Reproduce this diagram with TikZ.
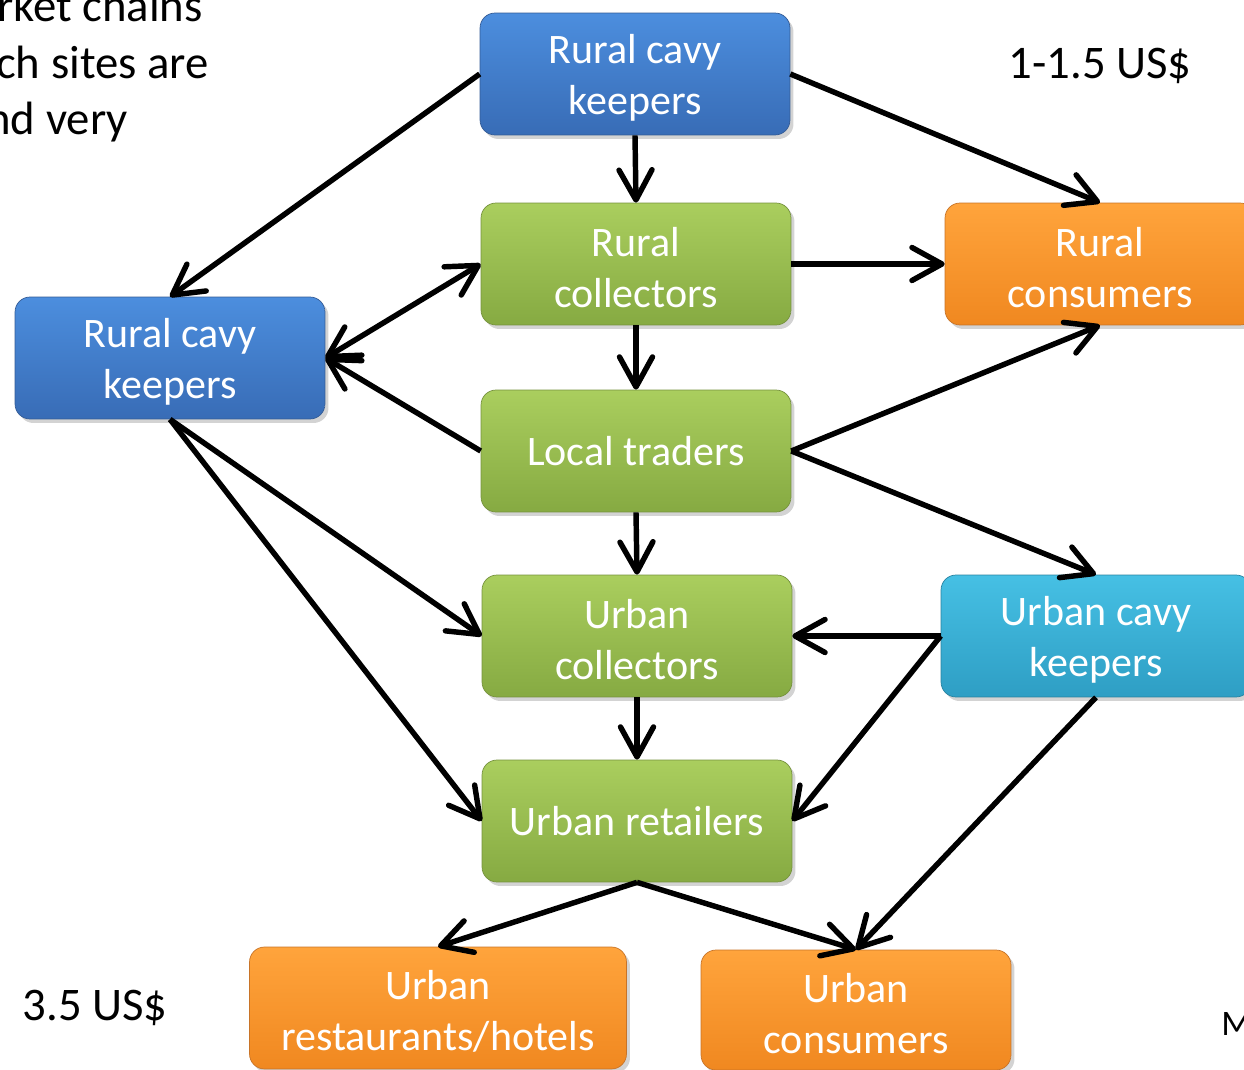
\documentclass[tikz,border=0pt]{standalone}
\usepackage{fontspec}
\setmainfont{Carlito}
\usepackage{tikz}
\usetikzlibrary{arrows.meta}
\usetikzlibrary{shadows}
\usepackage{xcolor}
\definecolor{bluetop}{RGB}{76,142,222}
\definecolor{bluebot}{RGB}{56,108,182}
\definecolor{blueline}{RGB}{52,92,150}
\definecolor{greentop}{RGB}{170,206,94}
\definecolor{greenbot}{RGB}{134,170,66}
\definecolor{greenline}{RGB}{118,146,62}
\definecolor{orangetop}{RGB}{255,164,60}
\definecolor{orangebot}{RGB}{240,136,32}
\definecolor{orangeline}{RGB}{200,116,40}
\definecolor{cyantop}{RGB}{70,192,228}
\definecolor{cyanbot}{RGB}{46,158,196}
\definecolor{cyanline}{RGB}{40,130,160}
\newcommand{\lift}{\rule{0pt}{0.86em}}
\tikzset{
  box/.style={rounded corners=0.3cm, minimum width=6.2cm, minimum height=2.44cm,
    align=center, text=white, font=\fontsize{23.9}{29}\selectfont,
    drop shadow={opacity=0.35, shadow xshift=0.07cm, shadow yshift=-0.08cm}},
  keeper/.style={box, draw=blueline, top color=bluetop, bottom color=bluebot},
  trader/.style={box, draw=greenline, top color=greentop, bottom color=greenbot},
  buyer/.style={box, draw=orangeline, top color=orangetop, bottom color=orangebot},
  citykeeper/.style={box, draw=cyanline, top color=cyantop, bottom color=cyanbot},
  barb/.tip={Straight Barb[length=0.6cm,width=0.66cm,round]},
  flow/.style={-barb, line width=3.1pt},
  twoway/.style={barb-barb, line width=3.1pt},
  label/.style={font=\fontsize{26.6}{32}\selectfont, inner sep=0pt}
}

\begin{document}
\begin{tikzpicture}[x=0.02cm, y=-0.02cm]
            \useasboundingbox (0,0) rectangle (1244,1070);
            \node (topk) [keeper] at (635,74) {\lift Rural cavy\\keepers};
            \node (ruralcoll) [trader] at (636,264) {\lift Rural\\collectors};
            \node (ruralcons) [buyer] at (1100,264) {\lift Rural\\consumers};
            \node (leftk) [keeper] at (170,358) {\lift Rural cavy\\keepers};
            \node (local) [trader] at (636,451) {Local traders};
            \node (urbcoll) [trader] at (637,636) {\lift Urban\\collectors};
            \node (urbank) [citykeeper] at (1096,636) {\lift Urban cavy\\keepers};
            \node (urbret) [trader] at (637,821) {Urban retailers};
            \node (rest) [buyer, minimum width=7.54cm] at (438,1008) {\lift Urban\\restaurants/hotels};
            \node (urbcons) [buyer, minimum height=2.4cm] at (856,1010) {\lift Urban\\consumers};
            \node (price1) [label] at (1100,66) {1-1.5 US\$};
            \node (price2) [label] at (95,1008) {3.5 US\$};
            \node (note1) [label, anchor=base east] at (203,22) {rket chains};
            \node (note2) [label, anchor=base east] at (209,79) {ch sites are};
            \node (note3) [label, anchor=base east] at (128,135) {nd very};
            \node (corner) [font=\fontsize{20.4}{24}\selectfont, inner sep=0pt, anchor=base west] at (1221,1035) {M};
            \draw [flow] (topk.west) -- (leftk.north);
            \draw [flow] (topk.south) -- (ruralcoll.north);
            \draw [flow] (topk.east) -- (ruralcons.north);
            \draw [flow] (ruralcoll.east) -- (ruralcons.west);
            \draw [twoway] (leftk.east) -- (ruralcoll.west);
            \draw [flow] (ruralcoll.south) -- (local.north);
            \draw [flow] (local.west) -- (leftk.east);
            \draw [flow] (local.east) -- (ruralcons.south);
            \draw [flow] (local.east) -- (urbank.north);
            \draw [flow] (local.south) -- (urbcoll.north);
            \draw [flow] (leftk.south) -- (urbcoll.west);
            \draw [flow] (leftk.south) -- (urbret.west);
            \draw [flow] (urbank.west) -- (urbcoll.east);
            \draw [flow] (urbank.west) -- (urbret.east);
            \draw [flow] (urbcoll.south) -- (urbret.north);
            \draw [flow] (urbret.south) -- (rest.north);
            \draw [flow] (urbret.south) -- (urbcons.north);
            \draw [flow] (urbank.south) -- (urbcons.north);
        \end{tikzpicture}
\end{document}
